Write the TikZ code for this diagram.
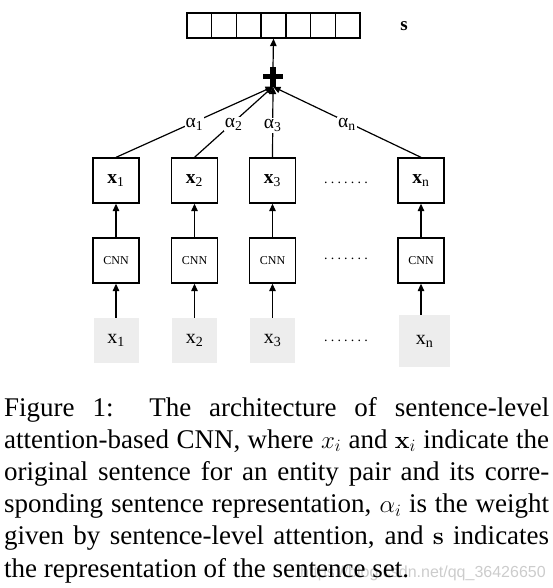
\documentclass[tikz,border=0pt]{standalone}
\usepackage[no-math]{fontspec}
\setmainfont{Liberation Serif}
\newfontfamily\wmfont{Liberation Sans}
\usetikzlibrary{arrows.meta}
\begin{document}
\begin{tikzpicture}[x=1pt,y=-1pt,
  box/.style={draw, line width=1.3pt, minimum width=46pt, minimum height=45pt, inner sep=0pt, font=\fontsize{19.5}{20}\selectfont},
  cnnbox/.style={box, font=\fontsize{12}{13}\selectfont},
  inbox/.style={fill=black!7, minimum width=45pt, minimum height=45pt, inner sep=0pt, font=\fontsize{20}{22}\selectfont},
  cell/.style={draw, line width=1.3pt, minimum width=24.7pt, minimum height=25pt, inner sep=0pt},
  arr/.style={line width=1.2pt, -{Triangle[length=7.5pt,width=6.5pt]}},
  alab/.style={fill=white, inner sep=1pt, font=\fontsize{19.5}{20}\selectfont},
  dotrow/.style={font=\fontsize{14}{16}\selectfont, inner sep=0pt},
]
\useasboundingbox (0,0) rectangle (553,588);
% sentence-set vector
\foreach \i in {1,...,7}
  \node[cell] (s\i) at ({187+24.714*(\i-0.5)},25.5) {};
\node[font=\fontsize{19}{20}\selectfont\bfseries] (slab) at (404,26) {s};
% plus
\node[minimum width=19pt, minimum height=19pt, inner sep=0pt] (plus) at (273,77) {};
\draw[line width=5pt] (plus.west) -- (plus.east);
\draw[line width=5.5pt] (plus.north) -- (plus.south);
\draw[arr] (plus.north) -- (s4.south);
% columns
\foreach \n/\x/\s in {1/116/1, 2/194.5/2, 3/272.5/3} {
  \node[box] (b\n) at (\x,180.5) {\textbf{x}\textsubscript{\s}};
  \node[cnnbox] (c\n) at (\x,260.5) {CNN};
  \node[inbox] (g\n) at (\x,340.5) {x\textsubscript{\s}};
  \draw[arr] (g\n) -- (c\n);
  \draw[arr] (c\n) -- (b\n);
}
\node[box] (bn) at (421,180.5) {\textbf{x}\textsubscript{n}};
\node[cnnbox] (cn) at (421,260.5) {CNN};
\node[inbox, minimum width=51pt, minimum height=52pt] (gn) at (424.5,341) {x\textsubscript{n}};
\draw[arr] (gn.north -| cn) -- (cn);
\draw[arr] (cn) -- (bn);
% dots
\foreach \y/\nm in {183/d1, 259/d2, 341/d3}
  \node[dotrow] (\nm) at (346,\y) {.\kern3.2pt.\kern3.2pt.\kern3.2pt.\kern3.2pt.\kern3.2pt.\kern3.2pt.};
% attention connectors
\draw[arr] (b1.north) -- node[alab, yshift=-2pt] {α\textsubscript{1}} (plus.south);
\draw[arr] (b2.north) -- node[alab, yshift=-2pt] {α\textsubscript{2}} (plus.south);
\draw[arr] (b3.north) -- node[alab, pos=0.45] {α\textsubscript{3}} (plus.south);
\draw[arr] (bn.north) -- node[alab, yshift=-2pt] {α\textsubscript{n}} (plus.south);
% watermark
\node[anchor=base west, inner sep=0pt, text=black!20, font=\wmfont\fontsize{16}{18}\selectfont] (wm) at (300,577) {https://blog.csdn.net/qq\_36426650};
% caption
\node[anchor=base west, text width=545pt, align=justify, inner sep=0pt,
      font=\fontsize{27}{32.2}\selectfont] (cap) at (4,416)
  {\hyphenpenalty=10000 \tolerance=9999 \emergencystretch=20pt
   Figure 1:\ \ The architecture of sentence-level\linebreak
   attention-based CNN, where $x_i$ and $\mathbf{x}_i$ indicate the\linebreak
   original sentence for an entity pair and its corre-\linebreak
   sponding sentence representation, $\alpha_i$ is the weight\linebreak
   given by sentence-level attention, and $\mathbf{s}$ indicates\linebreak
   the representation of the sentence set.};
\end{tikzpicture}
\end{document}
